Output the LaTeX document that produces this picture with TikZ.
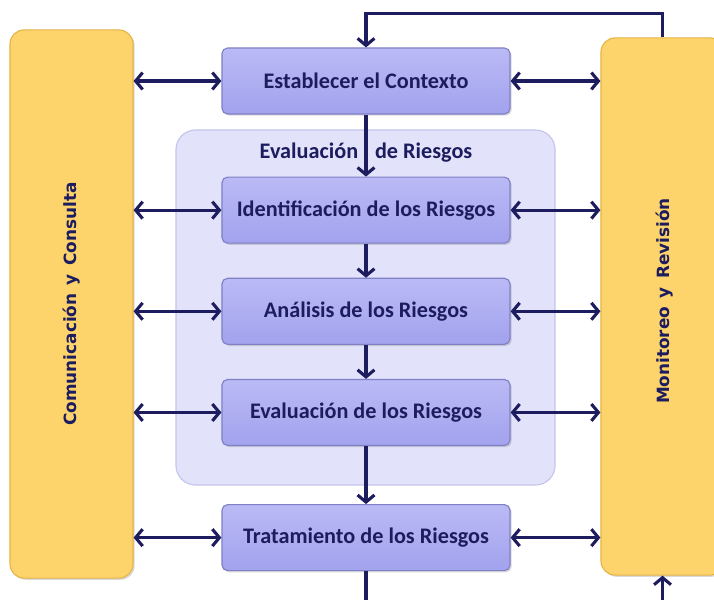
\documentclass[tikz,border=0pt]{standalone}
\usepackage{fontspec}
\setmainfont{Carlito}
\newfontfamily\barfont{DejaVu Sans}
\usepackage{tikz}
\usetikzlibrary{arrows.meta, positioning, shadows}

\definecolor{navy}{HTML}{1C1C5E}
\definecolor{boxtop}{HTML}{BABAF6}
\definecolor{boxbot}{HTML}{A2A2EE}
\definecolor{boxline}{HTML}{8080C6}
\definecolor{grpfill}{HTML}{E2E2FA}
\definecolor{grpline}{HTML}{C4C4EC}
\definecolor{barfill}{HTML}{FDD46C}
\definecolor{barline}{HTML}{E6B445}

\begin{document}
\begin{tikzpicture}[
    x=0.025cm, y=-0.025cm,
    node distance=0.85cm,
    stepbox/.style={rectangle, rounded corners=4pt, draw=boxline, thick, top color=boxtop, bottom color=boxbot, minimum width=7.2cm, minimum height=1.65cm, align=center, font=\bfseries\fontsize{15.8}{18}\selectfont, text=navy, drop shadow={opacity=0.3, shadow xshift=1.2pt, shadow yshift=-1.2pt}},
    sidebar/.style={rectangle, rounded corners=10pt, draw=barline, thick, fill=barfill, minimum width=3.075cm, drop shadow={opacity=0.3, shadow xshift=1.2pt, shadow yshift=-1.2pt}},
    bartext/.style={rotate=90, font=\barfont\bfseries\fontsize{12}{14}\selectfont, text=navy},
    group/.style={rectangle, rounded corners=14pt, draw=grpline, thick, fill=grpfill, minimum width=9.475cm, minimum height=8.875cm},
    link/.style={{Straight Barb[length=5pt,width=12pt]}-{Straight Barb[length=5pt,width=12pt]}, line width=2.2pt, draw=navy},
    flow/.style={-{Straight Barb[length=5pt,width=12pt]}, line width=2.2pt, draw=navy}
]
    \useasboundingbox (0,0) rectangle (714,599);

    % Side bars
    \node[sidebar, minimum height=13.7cm] (comun) at (71.5,304) {};
    \node[bartext] at (comun) {Comunicación\enspace y\enspace Consulta};
    \node[sidebar, minimum height=13.425cm] (monit) at (662.5,306.5) {};
    \node[bartext] at (665,301) {Monitoreo\enspace y\enspace Revisión};

    % Risk assessment group
    \node[group] (evalgrp) at (365.5,307.5) {};
    \node[font=\bfseries\fontsize{15.8}{18}\selectfont, text=navy] (grptitle) at (366,153) {Evaluación\hspace{12pt}de Riesgos};

    % Process steps
    \node[stepbox] (ctx) at (366,81) {Establecer el Contexto};
    \node[stepbox, below=1.55cm of ctx] (ident) {Identificación de los Riesgos};
    \node[stepbox, below=of ident] (anal) {Análisis de los Riesgos};
    \node[stepbox, below=of anal] (evalr) {Evaluación de los Riesgos};
    \node[stepbox, below=1.45cm of evalr] (trat) {Tratamiento de los Riesgos};

    % Flow down
    \draw[flow] (ctx) -- (ident);
    \draw[flow] (ident) -- (anal);
    \draw[flow] (anal) -- (evalr);
    \draw[flow] (evalr) -- (trat);

    % Links to the side bars
    \foreach \s in {ctx, ident, anal, evalr, trat} {
        \draw[link] (comun.east |- \s) -- (\s.west);
        \draw[link] (\s.east) -- (monit.west |- \s);
    }

    % Feedback loop
    \draw[flow] (monit.north) -- ++(0,-24) -| (ctx.north);
    \coordinate (edge) at (366,605);
    \draw[line width=2.2pt, draw=navy] (trat.south) -- (trat.south |- edge);
    \draw[flow] (monit.south |- edge) -- (monit.south);
\end{tikzpicture}
\end{document}
